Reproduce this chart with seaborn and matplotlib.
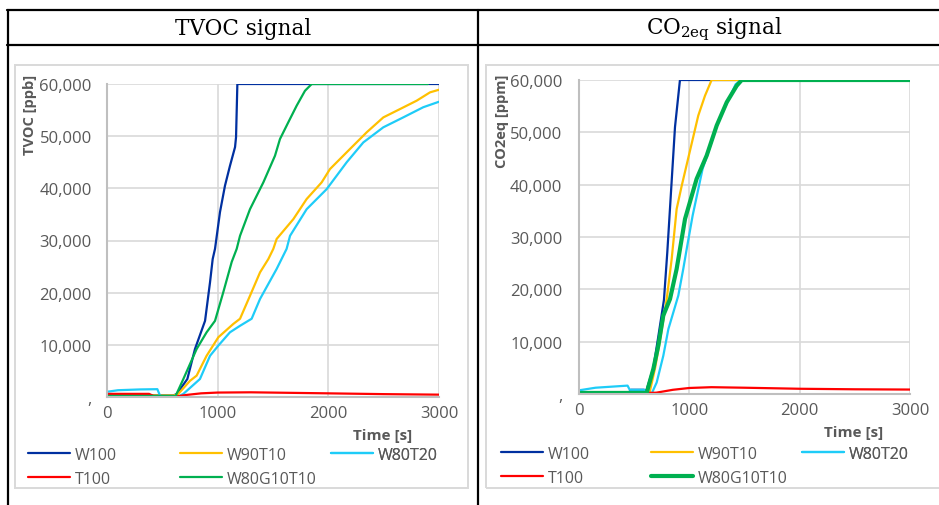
import seaborn as sns
import matplotlib.pyplot as plt
from matplotlib.patches import Rectangle
from matplotlib.lines import Line2D

sns.set_theme(style="whitegrid")
plt.rcParams['font.family'] = ['Open Sans', 'DejaVu Sans']

# --- data ---
series_names = ["W100", "W90T10", "W80T20", "T100", "W80G10T10"]
series_colors = ["#0030A0", "#FFC000", "#1ECCF8", "#FF0000", "#00B050"]

x_ticks = [0, 1000, 2000, 3000]
y_ticks = [0, 10000, 20000, 30000, 40000, 50000, 60000]
y_tick_labels = [",", "10,000", "20,000", "30,000", "40,000", "50,000", "60,000"]

# TVOC [ppb]
tvoc_w100_t = [0, 600, 630, 726, 795, 886, 931, 955, 976, 1021, 1066, 1111, 1157, 1166, 1178, 3000]
tvoc_w100_v = [300, 300, 575, 3450, 9200, 14600, 22000, 26450, 28400, 35450, 40500, 44300, 47900, 49800, 60000, 60000]
tvoc_w90t10_t = [0, 600, 640, 750, 810, 900, 1006, 1141, 1202, 1292, 1383, 1458, 1503, 1533, 1684, 1804,
                 1940, 2015, 2196, 2347, 2497, 2648, 2798, 2919, 3000]
tvoc_w90t10_v = [300, 300, 500, 3100, 4100, 7900, 11450, 14000, 15000, 19400, 23900, 26450, 28400, 30300, 34100,
                 37950, 41150, 43700, 47550, 50750, 53600, 55200, 56800, 58400, 58900]
tvoc_w80t20_t = [0, 100, 300, 455, 480, 650, 690, 840, 931, 1006, 1111, 1202, 1307, 1383, 1533, 1623, 1654,
                 1804, 1985, 2166, 2316, 2497, 2677, 2858, 3000]
tvoc_w80t20_v = [1000, 1300, 1450, 1500, 200, 150, 600, 3450, 7900, 9850, 12400, 13650, 15000, 18800, 24550,
                 28400, 30900, 36000, 39850, 45000, 48800, 51700, 53600, 55550, 56600]
tvoc_t100_t = [0, 380, 420, 640, 720, 850, 1000, 1300, 2000, 2500, 3000]
tvoc_t100_v = [600, 600, 200, 150, 400, 700, 850, 900, 700, 550, 450]
tvoc_w80g10t10_t = [0, 620, 690, 810, 900, 976, 1051, 1127, 1172, 1202, 1292, 1413, 1518, 1563, 1638, 1714,
                    1789, 1850, 2900]
tvoc_w80g10t10_v = [200, 200, 3450, 9200, 12400, 14600, 20100, 25900, 28400, 30900, 36000, 41150, 46250, 49450,
                    52650, 55850, 58700, 60000, 60000]

# CO2eq [ppm]
co2_w100_t = [0, 450, 470, 590, 610, 674, 719, 770, 800, 870, 915, 3000]
co2_w100_v = [200, 200, 800, 800, 600, 5000, 11000, 18000, 27000, 51000, 60000, 60000]
co2_w90t10_t = [0, 600, 640, 690, 740, 795, 840, 885, 931, 1006, 1081, 1142, 1202, 3000]
co2_w90t10_v = [200, 200, 300, 5000, 11000, 18150, 25800, 35350, 39800, 46500, 53200, 57000, 60000, 60000]
co2_w80t20_t = [0, 150, 440, 460, 590, 640, 660, 704, 764, 810, 855, 900, 945, 976, 1030, 1120, 1260, 1420,
                1475, 3000]
co2_w80t20_v = [700, 1200, 1600, 800, 800, 150, 150, 2200, 7300, 12400, 15600, 18800, 23900, 27700, 34100,
                43000, 51900, 59200, 60000, 60000]
co2_t100_t = [0, 600, 700, 850, 1000, 1200, 1500, 2000, 2500, 3000]
co2_t100_v = [300, 200, 250, 800, 1150, 1300, 1200, 1000, 900, 850]
co2_w80g10t10_t = [0, 613, 674, 719, 764, 825, 885, 961, 1066, 1157, 1248, 1339, 1429, 1475, 3000]
co2_w80g10t10_v = [200, 200, 4800, 9250, 15000, 18150, 23900, 33450, 41100, 45550, 51300, 55750, 58900, 60000,
                   60000]

tvoc_series = [(tvoc_w100_t, tvoc_w100_v), (tvoc_w90t10_t, tvoc_w90t10_v), (tvoc_w80t20_t, tvoc_w80t20_v),
               (tvoc_t100_t, tvoc_t100_v), (tvoc_w80g10t10_t, tvoc_w80g10t10_v)]
co2_series = [(co2_w100_t, co2_w100_v), (co2_w90t10_t, co2_w90t10_v), (co2_w80t20_t, co2_w80t20_v),
              (co2_t100_t, co2_t100_v), (co2_w80g10t10_t, co2_w80g10t10_v)]

# --- figure / layout in pixels ---
W, H = 939, 506
fig = plt.figure(figsize=(W / 100, H / 100), dpi=100)
fig.patch.set_facecolor('white')

GRAY_TXT = "#595959"
GRID = "#D9D9D9"


def fx(x):
    return x / W


def fy(y):
    return 1 - y / H


def px_axes(x0, y0, x1, y1):
    return fig.add_axes([fx(x0), fy(y1), (x1 - x0) / W, (y1 - y0) / H])


# table borders
for (x0, y0, x1, y1) in [(7, 11, 939, 11), (7, 46, 939, 46), (8, 11, 8, 506), (478, 11, 478, 506)]:
    fig.add_artist(Line2D([fx(x0), fx(x1)], [fy(y0), fy(y1)], transform=fig.transFigure,
                          color='black', lw=1.6))

# chart frames
for (x0, y0, x1, y1) in [(15, 66, 468, 489), (486, 66, 960, 489)]:
    fig.add_artist(Rectangle((fx(x0), fy(y1)), (x1 - x0) / W, (y1 - y0) / H, transform=fig.transFigure,
                             facecolor='none', edgecolor=GRID, lw=1.4))

# headers
fig.text(fx(243), fy(29), "TVOC signal", ha='center', va='center', fontsize=15.5,
         family='DejaVu Serif', color='black')
fig.text(fx(714), fy(29), r"CO$_\mathregular{2eq}$ signal", ha='center', va='center', fontsize=15.5,
         family='DejaVu Serif', color='black')


def draw_chart(ax, series, green_lw, ylabel, ylabel_x, ylabel_y, ytick_pad, legend_x, legend_y, time_x):
    for (t, v), name, col in zip(series, series_names, series_colors):
        lw = green_lw if name == "W80G10T10" else 1.6
        sns.lineplot(x=t, y=v, color=col, lw=lw, ax=ax, legend=False, label=name)
    ax.set_xlim(0, 3000)
    ax.set_ylim(0, 60000)
    ax.set_xticks(x_ticks)
    ax.set_yticks(y_ticks)
    ax.set_yticklabels(y_tick_labels)
    ax.set_xlabel("")
    ax.set_ylabel("")
    ax.grid(True, color=GRID, lw=1.2)
    ax.set_axisbelow(True)
    for s in ['top', 'right']:
        ax.spines[s].set_visible(False)
    for s in ['left', 'bottom']:
        ax.spines[s].set_color("#BFBFBF")
        ax.spines[s].set_linewidth(1.5)
    ax.tick_params(axis='x', length=0, pad=6, labelsize=12, labelcolor=GRAY_TXT)
    ax.tick_params(axis='y', length=0, pad=ytick_pad, labelsize=12, labelcolor=GRAY_TXT)
    ax.text(time_x, -0.098, "Time [s]", transform=ax.transAxes, ha='right', va='top', fontsize=11,
            fontweight='bold', color=GRAY_TXT)
    fig.text(fx(ylabel_x), fy(ylabel_y), ylabel, rotation=90, ha='center', va='center', fontsize=10.5,
             fontweight='bold', color=GRAY_TXT)

    # legend: three columns, row-wise order as in Excel
    lines = ax.get_lines()[:5]
    cols = [[0, 3], [1, 4], [2]]
    for ci, idx in enumerate(cols):
        leg = ax.legend([lines[i] for i in idx], [series_names[i] for i in idx], loc='upper left',
                        bbox_to_anchor=(fx(legend_x[ci]), fy(legend_y)), bbox_transform=fig.transFigure,
                        frameon=False, fontsize=11.5, handlelength=2.63, handletextpad=0.3,
                        labelspacing=0.5, borderpad=0, borderaxespad=0, labelcolor=GRAY_TXT)
        ax.add_artist(leg)


ax1 = px_axes(107, 85, 439, 398)
draw_chart(ax1, tvoc_series, 1.6, "TVOC [ppb]", 30, 115, 11, [28, 180, 331], 448, 0.92)

ax2 = px_axes(579, 81, 910, 395)
draw_chart(ax2, co2_series, 3.0, "CO2eq [ppm]", 502, 121, 12, [501, 651, 802], 447, 0.918)

fig.savefig("out.png", dpi=100, facecolor='white')
